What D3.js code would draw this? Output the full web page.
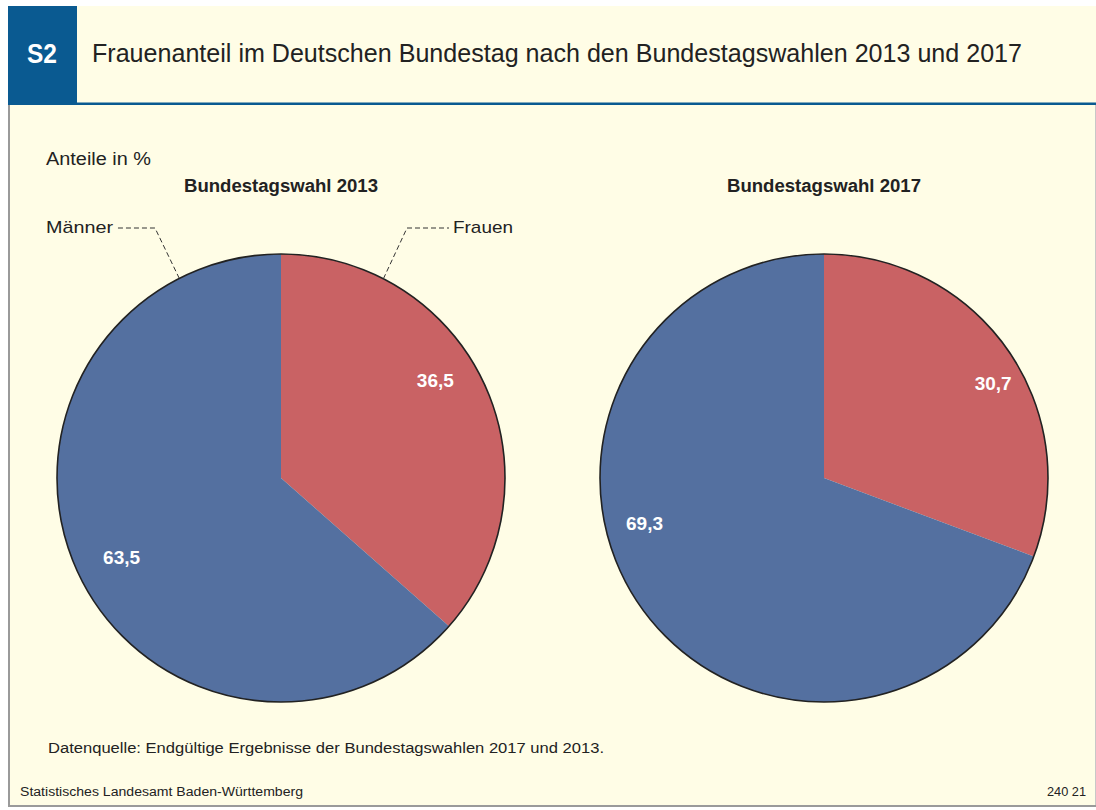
<!DOCTYPE html>
<html><head><meta charset="utf-8">
<script src="https://cdn.jsdelivr.net/npm/d3@7"></script>
<style>html,body{margin:0;padding:0;background:#fff;}svg{display:block;}</style>
</head><body>
<svg id="c" width="1096" height="810"></svg>
<script>
const years = ["2013", "2017"];
const categories = ["Frauen", "Männer"];
const frauen = [36.5, 30.7];
const maenner = [63.5, 69.3];
const valueLabels = [["36,5", "63,5"], ["30,7", "69,3"]];
const titleText = "Frauenanteil im Deutschen Bundestag nach den Bundestagswahlen 2013 und 2017";
const sourceText = "Datenquelle: Endgültige Ergebnisse der Bundestagswahlen 2017 und 2013.";

const W = 1096, H = 810;
const cream = "#fffde6", blue = "#5470a0", red = "#c96264", navy = "#0a5a91";
const font = "'Liberation Sans', Arial, sans-serif";
const svg = d3.select("#c");

function txt(x, y, s, size, opts = {}) {
  const t = svg.append("text").attr("x", x).attr("y", y).attr("font-family", font)
    .attr("font-size", size).attr("fill", opts.fill || "#222").text(s);
  if (opts.bold) t.attr("font-weight", "bold");
  if (opts.anchor) t.attr("text-anchor", opts.anchor);
  if (opts.len) t.attr("textLength", opts.len).attr("lengthAdjust", "spacingAndGlyphs");
  return t;
}

// frame
svg.append("rect").attr("x", 8).attr("y", 6).attr("width", 1088).attr("height", 800).attr("fill", cream);
svg.append("rect").attr("x", 8).attr("y", 6).attr("width", 69).attr("height", 98).attr("fill", navy);
svg.append("rect").attr("x", 8).attr("y", 102.5).attr("width", 1088).attr("height", 2.5).attr("fill", navy);
svg.append("line").attr("x1", 9).attr("x2", 9).attr("y1", 105).attr("y2", 806).attr("stroke", "#9a9a9a").attr("stroke-width", 2);
svg.append("line").attr("x1", 1095.5).attr("x2", 1095.5).attr("y1", 105).attr("y2", 806).attr("stroke", "#c8c8c8").attr("stroke-width", 1);
svg.append("line").attr("x1", 8).attr("x2", 1096).attr("y1", 806).attr("y2", 806).attr("stroke", "#9a9a9a").attr("stroke-width", 2);

txt(42, 63, "S2", 27, {bold: true, anchor: "middle", fill: "#fff", len: 30});
txt(92, 62, titleText, 25, {len: 930});

txt(46, 165, "Anteile in %", 17.5, {len: 105});
txt(48, 753, sourceText, 15.5, {len: 556});
txt(20, 796, "Statistisches Landesamt Baden-Württemberg", 12, {len: 283});
txt(1086, 796, "240 21", 12, {anchor: "end", len: 39});

// pies
const x = d3.scalePoint().domain(years).range([281, 824]);
const cy = 478, R = 224;
const color = d3.scaleOrdinal().domain(categories).range([red, blue]);
const pie = d3.pie().sort(null).value(d => d.v);
const arc = d3.arc().innerRadius(0).outerRadius(R);
// label placement (angle in degrees clockwise from top, radius)
const labelPos = [[[57.5, 183], [243.6, 178]], [[60.7, 194], [256, 185]]];

years.forEach((yr, i) => {
  const g = svg.append("g").attr("transform", `translate(${x(yr)},${cy})`);
  const data = [{k: categories[0], v: frauen[i]}, {k: categories[1], v: maenner[i]}];
  const arcs = pie(data);
  g.selectAll("path.s").data(arcs).join("path").attr("class", "s")
    .attr("d", arc).attr("fill", d => color(d.data.k));
  g.append("circle").attr("r", R).attr("fill", "none").attr("stroke", "#222").attr("stroke-width", 1.6);
  arcs.forEach((a, j) => {
    const [ang, rr] = labelPos[i][j];
    const t = ang * Math.PI / 180;
    g.append("text").attr("x", rr * Math.sin(t)).attr("y", -rr * Math.cos(t))
      .attr("text-anchor", "middle").attr("dy", "0.36em")
      .attr("font-family", font).attr("font-weight", "bold").attr("font-size", 19).attr("fill", "#fff")
      .text(valueLabels[i][j]);
  });
  txt(x(yr), 192, "Bundestagswahl " + yr, 18, {bold: true, anchor: "middle", len: 194});
});

// leader lines for 2013
const cx0 = x(years[0]);
function onCircle(deg) { const t = deg * Math.PI / 180; return [cx0 + R * Math.sin(t), cy - R * Math.cos(t)]; }
const pM = onCircle(-27), pF = onCircle(27.2);
svg.append("path").attr("d", `M${pM[0]},${pM[1]} L155,228 L116,228`)
  .attr("fill", "none").attr("stroke", "#333").attr("stroke-width", 1).attr("stroke-dasharray", "5,3");
svg.append("path").attr("d", `M${pF[0]},${pF[1]} L407,228 L449,228`)
  .attr("fill", "none").attr("stroke", "#333").attr("stroke-width", 1).attr("stroke-dasharray", "5,3");
txt(46, 233, categories[1], 17, {len: 67});
txt(453, 233, categories[0], 17, {len: 60});
</script>
</body></html>
